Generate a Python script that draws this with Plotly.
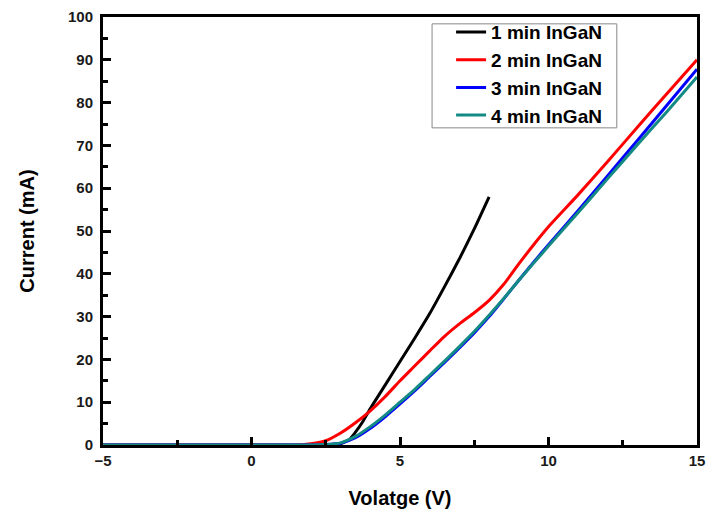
import plotly.graph_objects as go

# ---- data ----
v_1min = [-5, 0, 2.5, 3.0, 3.3, 3.5, 3.75, 4.0, 4.5, 5.0, 5.5, 6.0, 6.5, 7.0, 7.5, 8.0]
i_1min = [0, 0, 0, 0.3, 1.3, 3.0, 5.5, 8.5, 14.0, 19.5, 25.0, 30.7, 37.0, 43.5, 50.5, 58.0]

v_2min = [-5, 0, 1.5, 2.0, 2.5, 3.0, 3.5, 4.0, 4.5, 5.0, 5.5, 6.0, 6.5, 7.0, 7.5, 8.0, 8.5, 9.0, 9.5, 10, 11, 12, 13, 14, 15]
i_2min = [0, 0, 0, 0.3, 1.0, 2.8, 5.2, 8.0, 11.3, 15.0, 18.5, 22.0, 25.4, 28.3, 30.9, 33.8, 37.6, 42.3, 46.8, 51.0, 58.5, 66.3, 74.3, 82.2, 90.0]

v_3min = [-5, 0, 2.0, 2.5, 3.0, 3.5, 4.0, 4.5, 5.0, 5.5, 6.0, 6.5, 7.0, 7.5, 8.0, 8.5, 9.0, 9.5, 10, 11, 12, 13, 14, 15]
i_3min = [0, 0, 0, 0.1, 0.4, 1.7, 3.9, 6.6, 9.6, 12.7, 16.0, 19.3, 22.7, 26.2, 30.0, 34.2, 38.5, 42.7, 46.8, 54.8, 63.0, 71.2, 79.5, 87.8]

v_4min = [-5, 0, 2.0, 2.5, 3.0, 3.5, 4.0, 4.5, 5.0, 5.5, 6.0, 6.5, 7.0, 7.5, 8.0, 8.5, 9.0, 9.5, 10, 11, 12, 13, 14, 15]
i_4min = [0, 0, 0, 0.1, 0.5, 2.0, 4.3, 7.0, 10.0, 13.0, 16.3, 19.6, 23.0, 26.5, 30.3, 34.3, 38.5, 42.5, 46.5, 54.3, 62.3, 70.2, 78.0, 86.0]

series = [
    ("1 min InGaN", v_1min, i_1min, "#000000"),
    ("2 min InGaN", v_2min, i_2min, "#FF0000"),
    ("3 min InGaN", v_3min, i_3min, "#0000FF"),
    ("4 min InGaN", v_4min, i_4min, "#138A84"),
]

FONT = "Arial, Liberation Sans, sans-serif"

fig = go.Figure()
for name, x, y, c in series:
    fig.add_trace(go.Scatter(x=x, y=y, mode="lines", name=name, legendgroup=name,
                             line=dict(color=c, width=3, shape="spline", smoothing=0.5)))

axis_common = dict(
    showline=True, linewidth=3, linecolor="black", mirror=True,
    ticks="inside", ticklen=8, tickwidth=3, tickcolor="black",
    showgrid=False, zeroline=False, automargin=False,
    tickfont=dict(family=FONT, size=15, color="#1a1a1a", weight="bold"),
)

# legend frame drawn as a paper-space rectangle
fig.add_shape(type="rect", xref="paper", yref="paper",
              x0=0.554, x1=0.865, y0=0.741, y1=0.984,
              line=dict(color="#888", width=1), fillcolor="white", layer="above")

fig.update_layout(
    width=707, height=509,
    margin=dict(l=103, r=10, t=17, b=64),
    paper_bgcolor="white", plot_bgcolor="white",
    font=dict(family=FONT, color="black"),
    xaxis=dict(range=[-5, 15], tickvals=[-5, 0, 5, 10, 15],
               minor=dict(ticks="inside", ticklen=5, tickwidth=3, tickcolor="black", dtick=2.5, tick0=0, showgrid=False),
               title=dict(text="Volatge (V)", font=dict(family=FONT, size=20, weight="bold"), standoff=23),
               **axis_common),
    yaxis=dict(range=[0, 100], dtick=10,
               minor=dict(ticks="inside", ticklen=5, tickwidth=3, tickcolor="black", dtick=5, showgrid=False),
               title=dict(text="Current (mA)", font=dict(family=FONT, size=20, weight="bold"), standoff=28),
               ticklabelstandoff=4,
               **axis_common),
    legend=dict(x=0.586, y=1.009, xanchor="left", yanchor="top",
                bgcolor="rgba(0,0,0,0)", borderwidth=0,
                font=dict(family=FONT, size=19, weight="bold"),
                tracegroupgap=0),
    showlegend=True,
)

fig.write_html("out.html")
